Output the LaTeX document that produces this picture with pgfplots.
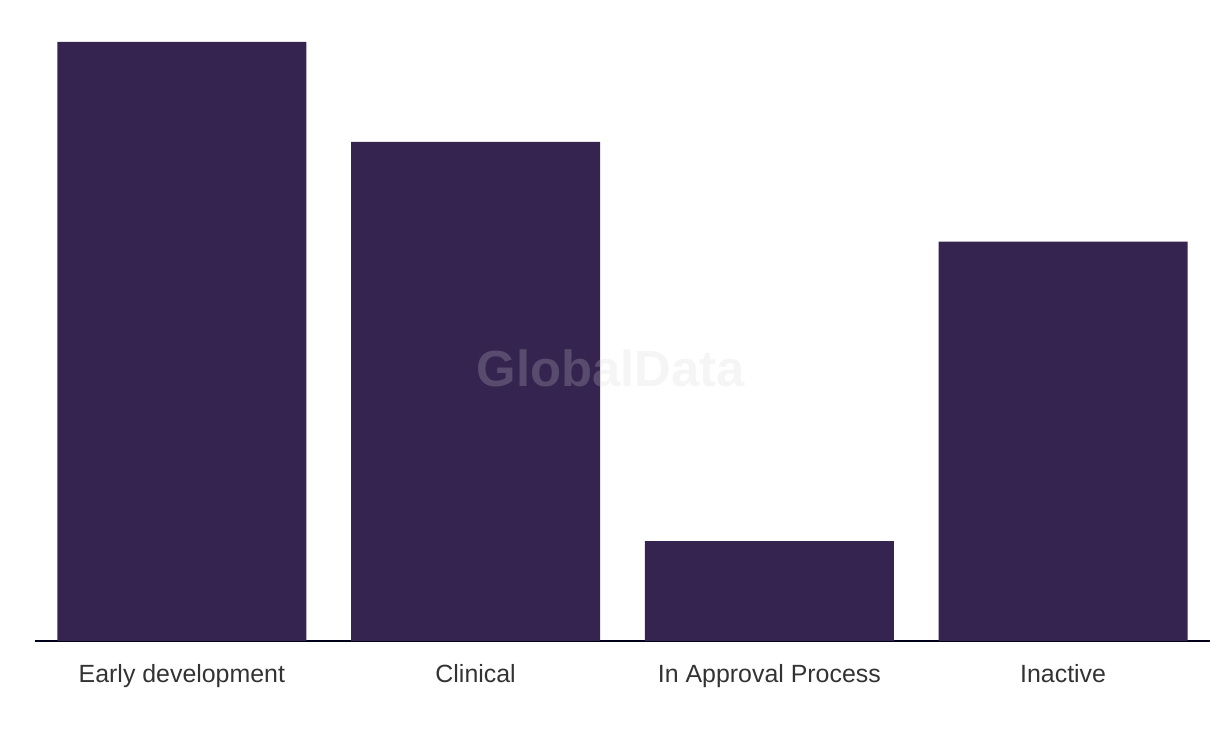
\documentclass[border=0pt]{standalone}
\usepackage{pgfplots}
\pgfplotsset{compat=1.18}
\usepackage{fontspec}
\setmainfont{Liberation Sans}
\definecolor{barc}{HTML}{352350}
\definecolor{txt}{HTML}{333333}
\begin{document}
\begin{tikzpicture}[x=1bp,y=1bp]
\useasboundingbox (0,0) rectangle (1220,736);
\begin{axis}[
  at={(35bp,95bp)}, anchor=south west,
  scale only axis, width=1175bp, height=621bp,
  xmin=-0.5, xmax=3.5, ymin=0, ymax=6.22,
  axis x line*=bottom, axis y line=none,
  x axis line style={draw=black!90!blue, line width=1.6bp, -},
  ytick=\empty,
  xtick=data, xticklabels={Early development,Clinical,In Approval Process,Inactive},
  major tick length=0pt,
  xticklabel style={font=\fontsize{25}{29}\selectfont, text=txt, yshift=-20bp},
  ybar, bar width=0.848, bar shift=0pt,
  clip=false,
]
\addplot[fill=barc, draw=none] coordinates {(0,6) (1,5) (2,1) (3,4)};
\node[font=\fontsize{51}{58}\selectfont\bfseries, text=black!17, opacity=0.23] at (axis cs:1.46,2.73) {GlobalData};
\end{axis}
\end{tikzpicture}
\end{document}
